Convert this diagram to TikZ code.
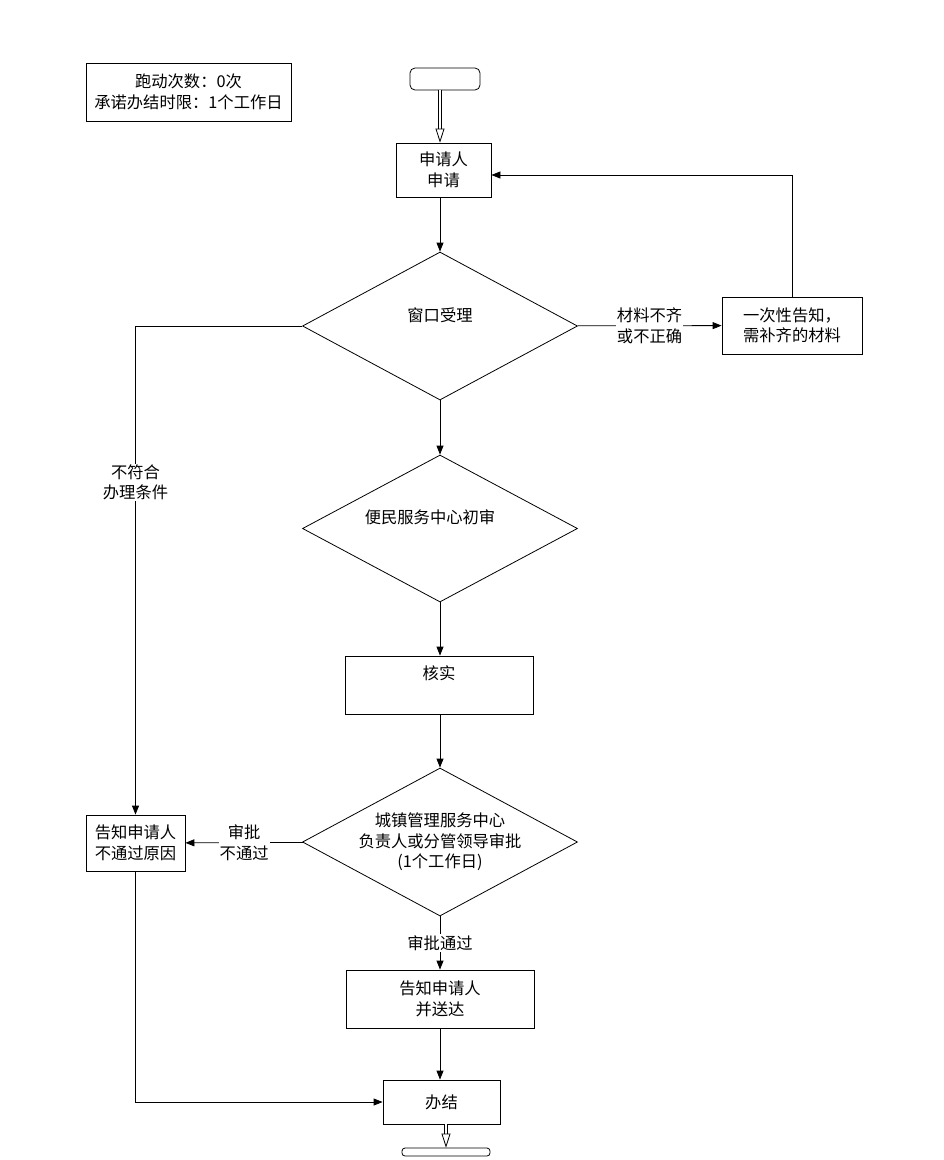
\documentclass[tikz,border=0pt]{standalone}
\usepackage{fontspec}
\setmainfont{Noto Sans CJK SC}
\usetikzlibrary{arrows.meta,shapes.geometric}

\begin{document}
\begin{tikzpicture}[x=1pt,y=-1pt,
    font=\fontsize{16.3pt}{20.5pt}\selectfont,
    every node/.style={align=center,line width=0.8pt},
    box/.style={draw,rectangle,inner sep=0pt},
    decision/.style={draw,diamond,inner sep=0pt},
    terminal/.style={draw,rectangle,rounded corners=5pt,inner sep=0pt},
    line/.style={line width=0.8pt,-{Triangle[length=9pt,width=7pt]}},
    hollow/.style={double,double distance=2.2pt,line width=0.8pt,
        -{Triangle[fill=white,length=14pt,width=9pt]}},
    lab/.style={fill=white,inner sep=1pt}]
\useasboundingbox (0,0) rectangle (944,1160);

% nodes
\node[box,minimum width=205,minimum height=58] (info) at (188.5,92)
    {跑动次数：0次\\承诺办结时限：1个工作日};
\node[terminal,minimum width=70,minimum height=22] (start) at (445,79) {};
\node[box,minimum width=95,minimum height=54] (apply) at (443.5,170)
    {申请人\\申请};
\node[decision,minimum width=275,minimum height=148,
    label={[yshift=11pt]center:窗口受理}] (accept) at (440,326) {};
\node[box,minimum width=140,minimum height=57] (notice) at (792,325.5)
    {一次性告知，\\需补齐的材料};
\node[decision,minimum width=275,minimum height=147,
    label={[yshift=11pt,xshift=-10pt]center:便民服务中心初审}] (first) at (440,528.5) {};
\node[box,minimum width=188,minimum height=58,
    label={[yshift=12pt]center:核实}] (check) at (439,685) {};
\node[decision,minimum width=275,minimum height=148,
    label={center:城镇管理服务中心\\负责人或分管领导审批\\(1个工作日)}]
    (approve) at (440,842) {};
\node[box,minimum width=99,minimum height=56] (reject) at (135.5,843)
    {告知申请人\\不通过原因};
\node[box,minimum width=188,minimum height=58] (deliver) at (440,999)
    {告知申请人\\并送达};
\node[box,minimum width=117,minimum height=44] (done) at (441.5,1102) {办结};
\node[terminal,rounded corners=3pt,minimum width=88,minimum height=8] (end)
    at (446,1152) {};

% connectors
\draw[hollow] (accept.north |- start.south) -- (accept.north |- apply.north);
\draw[line] (accept.north |- apply.south) -- (accept.north);
\draw[line] (accept) -- node[lab]{材料不齐\\或不正确} (notice);
\draw[line] (notice.north) |- ([yshift=-5pt]apply.east);
\draw[line] (accept.west) -| node[lab,pos=0.66]{不符合\\办理条件} (reject.north);
\draw[line] (accept) -- (first);
\draw[line] (first.south) -- (first.south |- check.north);
\draw[line] (approve.north |- check.south) -- (approve.north);
\draw[line] (approve) -- node[lab]{审批\\不通过} (reject);
\draw[line] (approve.south) -- node[lab]{审批通过} (deliver.north);
\draw[line] (deliver.south) -- (deliver.south |- done.north);
\draw[line] (reject.south) |- (done.west);
\draw[hollow] (end.north |- done.south) -- (end.north);
\end{tikzpicture}
\end{document}
